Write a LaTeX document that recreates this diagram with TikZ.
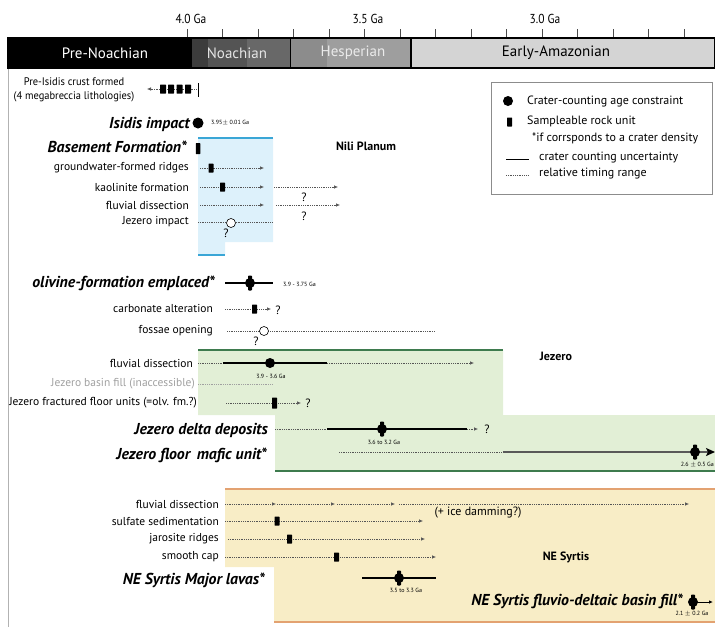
\documentclass[tikz,border=0pt]{standalone}
\usepackage{fontspec}
\setmainfont{PT Sans}
\usetikzlibrary{arrows.meta}
\definecolor{blueF}{HTML}{DDF1FB}
\definecolor{blueL}{HTML}{3AA6D6}
\definecolor{greenF}{HTML}{E2EFD6}
\definecolor{greenL}{HTML}{3E7B4E}
\definecolor{orF}{HTML}{F8EDC6}
\definecolor{orL}{HTML}{E3A271}
\definecolor{dotc}{HTML}{555555}
\definecolor{eraN1}{HTML}{3C3C3C}
\definecolor{eraN2}{HTML}{545454}
\definecolor{eraN3}{HTML}{686868}
\definecolor{eraH1}{HTML}{8C8C8C}
\definecolor{eraH2}{HTML}{9E9E9E}
\definecolor{eraA}{HTML}{D4D4D4}
\definecolor{ghost}{HTML}{A0A0A0}
\tikzset{
  lbl/.style={font=\fontsize{11.5}{13}\selectfont, anchor=east, inner sep=0pt},
  blbl/.style={font=\fontsize{15.8}{18}\selectfont\bfseries\itshape, anchor=east, inner sep=0pt},
  region/.style={font=\fontsize{12}{14}\selectfont\bfseries, inner sep=0pt},
  tinylbl/.style={font=\fontsize{6}{7}\selectfont, inner sep=0pt},
  qm/.style={font=\fontsize{12}{14}\selectfont, inner sep=0pt},
  leg/.style={font=\fontsize{12}{14}\selectfont, anchor=west, inner sep=0pt},
  dots/.style={draw=dotc, line width=0.6pt, dash pattern=on 0.9pt off 0.9pt},
  solidl/.style={draw=black, line width=1.2pt},
  arr/.style={-{Latex[length=4pt,width=3.5pt]}},
  circm/.style={circle, fill=black, minimum size=11pt, inner sep=0pt},
  openm/.style={circle, draw=black, fill=white, minimum size=9pt, inner sep=0pt, line width=0.6pt},
  sampm/.style={rectangle, fill=black, minimum width=5pt, minimum height=9pt, inner sep=0pt, rounded corners=0.5pt},
  combo/.pic={\fill[black] (0,0) circle (5); \fill[black,rounded corners=0.8pt] (-2,-7.5) rectangle (2,7.5);},
  era/.style={font=\fontsize{15}{17}\selectfont, inner sep=0pt},
  tick/.style={font=\fontsize{13}{15}\selectfont, inner sep=0pt}
}
\begin{document}
\begin{tikzpicture}[x=1pt,y=-1pt]
\useasboundingbox (0,0) rectangle (715,627);
% ---------- background regions
\fill[blueF] (198,138) -- (273,138) -- (273,242) -- (225,242) -- (225,255) -- (198,255) -- cycle;
\draw[blueL,line width=1.5pt] (198,138) -- (273,138);
\draw[blueL,line width=1.5pt] (198,255) -- (225,255);
\fill[greenF] (198,350) -- (503,350) -- (503,415) -- (715,415) -- (715,471) -- (275,471) -- (275,415) -- (198,415) -- cycle;
\draw[greenL,line width=1.5pt] (198,350) -- (503,350);
\draw[greenL,line width=1.5pt] (275,471) -- (715,471);
\fill[orF] (225,489) -- (715,489) -- (715,622) -- (274,622) -- (274,567) -- (225,567) -- cycle;
\draw[orL,line width=1.5pt] (225,489) -- (715,489);
\draw[orL,line width=1.5pt] (274,622) -- (715,622);
\draw[black!30,line width=0.8pt] (8,68) -- (8,627);
% ---------- time axis
\foreach \k in {0,...,14} {\draw[black!70,line width=0.6pt] (187+35.5*\k,29) -- (187+35.5*\k,38);}
\node[tick] (t40) at (191,19) {\scalebox{0.88}[1]{4.0 Ga}};
\node[tick] (t35) at (368,19) {\scalebox{0.88}[1]{3.5 Ga}};
\node[tick] (t30) at (545,19) {\scalebox{0.88}[1]{3.0 Ga}};
% ---------- era bar
\fill[black] (8,38) rectangle (191,68);
\fill[eraN1] (191,38) rectangle (208,68);
\fill[eraN2] (208,38) rectangle (247,68);
\fill[eraN3] (247,38) rectangle (290,68);
\fill[eraH1] (290,38) rectangle (327,68);
\fill[eraH2] (327,38) rectangle (411,68);
\fill[eraA] (411,38) rectangle (715,68);
\draw[black,line width=1.2pt] (8,38) rectangle (715,68);
\draw[black,line width=1pt] (191,38) -- (191,68);
\draw[black,line width=1pt] (290,38) -- (290,68);
\draw[black,line width=2pt] (411,38) -- (411,68);
\node[era,text=white] (ePN) at (105,53) {Pre-Noachian};
\node[era,text=black!10] (eN) at (237,53) {Noachian};
\node[era,text=black!8] (eH) at (353,53) {Hesperian};
\node[era,text=black] (eA) at (556,53) {Early-Amazonian};
% ---------- legend
\draw[black!45,line width=0.8pt] (491,82) rectangle (712,194);
\node[circm,minimum size=10pt] (lc) at (508,101) {};
\node[leg] (lct) at (527,101) {Crater-counting age constraint};
\node[sampm] (ls) at (509.5,122) {};
\node[leg] (lst) at (527,121) {Sampleable rock unit};
\node[leg] (lst2) at (532,138) {*if corrsponds to a crater density};
\coordinate (lu1) at (506,159); \coordinate (lu2) at (529,159);
\draw[black,line width=1pt] (lu1) -- (lu2);
\node[leg] (lut) at (539,158) {crater counting uncertainty};
\coordinate (lr1) at (506,175); \coordinate (lr2) at (528,175);
\draw[dots] (lr1) -- (lr2);
\node[leg] (lrt) at (539,174) {relative timing range};
% ---------- region labels
\node[region] (rNili) at (366,146) {Nili Planum};
\node[region] (rJez) at (556,356) {Jezero};
\node[region] (rSyr) at (566,557) {NE Syrtis};
% ---------- Pre-Isidis crust
\node[font=\fontsize{11}{14}\selectfont, align=center, inner sep=0pt] (preI) at (74,90) {\scalebox{0.95}[1]{Pre-Isidis crust formed}\\\scalebox{0.95}[1]{(4 megabreccia lithologies)}};
\coordinate (piA) at (160,89); \coordinate (piB) at (147,89); \coordinate (piC) at (198,89);
\draw[dots,arr] (piA) -- (piB);
\draw[dots] (piA) -- (piC);
\foreach \xx/\nn in {163/a,171/b,179.5/c,188/d} {\node[sampm,minimum width=6pt] (pi\nn) at (\xx,89) {};}
\draw[black,line width=1pt] (198,83) -- (198,97);
% ---------- Isidis impact
\node[blbl] (isi) at (190,124) {Isidis impact};
\node[circm] (isiM) at (198,123) {};
\node[tinylbl,anchor=west] (isiL) at (211,123) {3.95$\pm$ 0.01 Ga};
% ---------- Basement formation
\node[blbl] (bas) at (187,147) {Basement Formation*};
\node[sampm,minimum width=4.5pt,minimum height=11pt] (basM) at (198,148.5) {};
% ---------- groundwater-formed ridges
\node[lbl] (gw) at (189,168) {groundwater-formed ridges};
\coordinate (gwA) at (200,168); \coordinate (gwB) at (264,168);
\draw[dots,arr] (gwA) -- (gwB);
\node[sampm] (gwM) at (211,168) {};
% ---------- kaolinite
\node[lbl] (kao) at (189,187) {kaolinite formation};
\coordinate (kaA) at (200,187); \coordinate (kaB) at (264,187);
\coordinate (kaC) at (274,187); \coordinate (kaD) at (338,187);
\draw[dots,arr] (kaA) -- (kaB);
\draw[dots,arr] (kaC) -- (kaD);
\node[sampm] (kaM) at (222.5,187) {};
\node[qm] (kaQ) at (304,197) {?};
% ---------- fluvial dissection (Nili)
\node[lbl] (fl1) at (189,205) {fluvial dissection};
\coordinate (f1A) at (200,205); \coordinate (f1B) at (264,205);
\coordinate (f1C) at (276,205); \coordinate (f1D) at (340,205);
\draw[dots,arr] (f1A) -- (f1B);
\draw[dots,arr] (f1C) -- (f1D);
\node[qm] (f1Q) at (304,216) {?};
% ---------- Jezero impact
\node[lbl] (jzi) at (189,222) {Jezero impact};
\coordinate (jiA) at (198,222); \coordinate (jiB) at (273,222);
\draw[dots] (jiA) -- (jiB);
\node[openm] (jiM) at (231,223) {};
\node[qm] (jiQ) at (226,233) {?};
% ---------- olivine formation
\node[blbl] (olv) at (215,283) {olivine-formation emplaced*};
\coordinate (olA) at (225,283); \coordinate (olB) at (273,283);
\draw[solidl] (olA) -- (olB);
\coordinate (olM) at (250,283); \pic at (olM) {combo};
\node[tinylbl,anchor=west] (olL) at (283,284) {3.9 - 3.75 Ga};
% ---------- carbonate alteration
\node[lbl] (carb) at (213,308) {carbonate alteration};
\coordinate (caA) at (225,309); \coordinate (caB) at (271,309);
\draw[dots,arr] (caA) -- (caB);
\node[sampm] (caM) at (254.5,309) {};
\node[qm] (caQ) at (278,310) {?};
% ---------- fossae opening
\node[lbl] (fos) at (213,331) {fossae opening};
\coordinate (foA) at (227,331); \coordinate (foB) at (435,331);
\draw[dots] (foA) -- (foB);
\node[openm] (foM) at (264,331) {};
\node[qm] (foQ) at (256,341) {?};
% ---------- fluvial dissection (Jezero)
\node[lbl] (fl2) at (193,363) {fluvial dissection};
\coordinate (f2A) at (198,363); \coordinate (f2B) at (223,363);
\coordinate (f2C) at (327,363); \coordinate (f2D) at (474,363);
\draw[dots] (f2A) -- (f2B);
\draw[solidl] (f2B) -- (f2C);
\draw[dots,arr] (f2C) -- (f2D);
\node[circm,minimum size=10pt] (f2M) at (270,363) {};
\node[tinylbl] (f2L) at (271,376) {3.9 - 3.6 Ga};
% ---------- Jezero basin fill
\node[lbl,text=ghost] (bf) at (195,384) {Jezero basin fill (inaccessible)};
\coordinate (bfA) at (198,384); \coordinate (bfB) at (273,384);
\draw[dots,draw=ghost] (bfA) -- (bfB);
% ---------- fractured floor
\node[lbl] (ff) at (197,403) {Jezero fractured floor units (=olv. fm.?)};
\coordinate (ffA) at (226,403); \coordinate (ffB) at (301,403);
\draw[dots,arr] (ffA) -- (ffB);
\node[sampm,minimum height=11pt] (ffM) at (274.5,403) {};
\node[qm] (ffQ) at (308,403) {?};
% ---------- Jezero delta deposits
\node[blbl] (dd) at (268,430) {Jezero delta deposits};
\coordinate (ddA) at (275,429); \coordinate (ddB) at (327,429);
\coordinate (ddC) at (467,429); \coordinate (ddD) at (478,429);
\draw[dots] (ddA) -- (ddB);
\draw[solidl] (ddB) -- (ddC);
\draw[dots,arr] (ddC) -- (ddD);
\coordinate (ddM) at (382,429); \pic at (ddM) {combo};
\node[qm] (ddQ) at (487,429) {?};
\node[tinylbl] (ddL) at (384,442) {3.6 to 3.2 Ga};
% ---------- Jezero floor mafic unit
\node[blbl] (fm) at (267,455) {Jezero floor\, mafic unit*};
\coordinate (fmA) at (339,452); \coordinate (fmB) at (503,452); \coordinate (fmC) at (715,452);
\draw[dots] (fmA) -- (fmB);
\draw[draw=black!65,line width=1.6pt,-{Stealth[length=9pt,width=8pt,inset=2pt,black]}] (fmB) -- (fmC);
\coordinate (fmM) at (695,452); \pic at (fmM) {combo};
\node[tinylbl,anchor=east] (fmL) at (714,465) {2.6 $\pm$ 0.5 Ga};
% ---------- fluvial dissection (NE Syrtis)
\node[lbl] (fl3) at (219,504) {fluvial dissection};
\coordinate (f3A) at (225,504); \coordinate (f3B) at (276,504);
\coordinate (f3C) at (277,504); \coordinate (f3D) at (335,504);
\coordinate (f3E) at (337,504); \coordinate (f3F) at (395,504);
\coordinate (f3G) at (399,504); \coordinate (f3H) at (689,504);
\draw[dots,arr] (f3A) -- (f3B);
\draw[dots,arr] (f3C) -- (f3D);
\draw[dots,arr] (f3E) -- (f3F);
\draw[dots,arr] (f3G) -- (f3H);
\node[font=\fontsize{12}{14}\selectfont, inner sep=0pt] (ice) at (478,513) {(+ ice damming?)};
% ---------- sulfate sedimentation
\node[lbl] (sul) at (219,521) {sulfate sedimentation};
\coordinate (suA) at (225,521); \coordinate (suB) at (423,521);
\draw[dots,arr] (suA) -- (suB);
\node[sampm] (suM) at (277,521) {};
% ---------- jarosite ridges
\node[lbl] (jar) at (219,539) {jarosite ridges};
\coordinate (jaA) at (228,539); \coordinate (jaB) at (425,539);
\draw[dots,arr] (jaA) -- (jaB);
\node[sampm] (jaM) at (289.5,539) {};
% ---------- smooth cap
\node[lbl] (sc) at (219,557) {smooth cap};
\coordinate (scA) at (225,557); \coordinate (scB) at (436,557);
\draw[dots,arr] (scA) -- (scB);
\node[sampm] (scM) at (336.5,557) {};
% ---------- NE Syrtis Major lavas
\node[blbl] (lav) at (265,580) {NE Syrtis Major lavas*};
\coordinate (lvA) at (362,578); \coordinate (lvB) at (436,578);
\draw[solidl] (lvA) -- (lvB);
\coordinate (lvM) at (399,578); \pic at (lvM) {combo};
\node[tinylbl] (lvL) at (406,590) {3.5 to 3.3 Ga};
% ---------- NE Syrtis fluvio-deltaic basin fill
\node[blbl] (fd) at (683,601) {NE Syrtis fluvio-deltaic basin fill*};
\coordinate (fdM) at (693,602); \coordinate (fdB) at (713,602);
\draw[black,line width=0.8pt,arr] (fdM) -- (fdB);
\pic at (fdM) {combo};
\node[tinylbl] (fdL) at (692,614) {2.1 $\pm$ 0.2 Ga};
\end{tikzpicture}
\end{document}
